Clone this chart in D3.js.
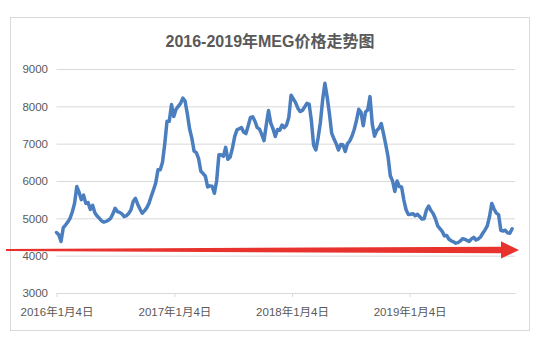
<!DOCTYPE html>
<html><head><meta charset="utf-8">
<script src="https://cdn.jsdelivr.net/npm/d3@7/dist/d3.min.js"></script>
<style>
html,body{margin:0;padding:0;background:#fff;}
svg{display:block;}
</style></head>
<body>
<svg id="chart" width="547" height="339"></svg>
<script>
const titleText = "2016-2019年MEG价格走势图";
const dates = [
"2016-01-04","2016-01-11","2016-01-18","2016-01-25","2016-02-01","2016-02-08","2016-02-15","2016-02-22","2016-02-29",
"2016-03-07","2016-03-14","2016-03-21","2016-03-28","2016-04-04","2016-04-11","2016-04-18","2016-04-25",
"2016-05-02","2016-05-09","2016-05-16","2016-05-23","2016-05-30","2016-06-06","2016-06-13","2016-06-20","2016-06-27",
"2016-07-04","2016-07-11","2016-07-18","2016-07-25","2016-08-01","2016-08-08","2016-08-15","2016-08-22","2016-08-29",
"2016-09-05","2016-09-12","2016-09-19","2016-09-26","2016-10-03","2016-10-10","2016-10-17","2016-10-24","2016-10-31",
"2016-11-07","2016-11-14","2016-11-21","2016-11-28","2016-12-05","2016-12-12","2016-12-19","2016-12-26",
"2017-01-02","2017-01-09","2017-01-16","2017-01-23","2017-01-30","2017-02-06","2017-02-13","2017-02-20","2017-02-27",
"2017-03-06","2017-03-13","2017-03-20","2017-03-27","2017-04-03","2017-04-10","2017-04-17","2017-04-24",
"2017-05-01","2017-05-08","2017-05-15","2017-05-22","2017-05-29","2017-06-05","2017-06-12","2017-06-19","2017-06-26",
"2017-07-03","2017-07-10","2017-07-17","2017-07-24","2017-07-31","2017-08-07","2017-08-14","2017-08-21","2017-08-28",
"2017-09-04","2017-09-11","2017-09-18","2017-09-25","2017-10-02","2017-10-09","2017-10-16","2017-10-23","2017-10-30",
"2017-11-06","2017-11-13","2017-11-20","2017-11-27","2017-12-04","2017-12-11","2017-12-18","2017-12-25",
"2018-01-01","2018-01-08","2018-01-15","2018-01-22","2018-01-29","2018-02-05","2018-02-12","2018-02-19","2018-02-26",
"2018-03-05","2018-03-12","2018-03-19","2018-03-26","2018-04-02","2018-04-09","2018-04-16","2018-04-23","2018-04-30",
"2018-05-07","2018-05-14","2018-05-21","2018-05-28","2018-06-04","2018-06-11","2018-06-18","2018-06-25",
"2018-07-02","2018-07-09","2018-07-16","2018-07-23","2018-07-30","2018-08-06","2018-08-13","2018-08-20","2018-08-27",
"2018-09-03","2018-09-10","2018-09-17","2018-09-24","2018-10-01","2018-10-08","2018-10-15","2018-10-22","2018-10-29",
"2018-11-05","2018-11-12","2018-11-19","2018-11-26","2018-12-03","2018-12-10","2018-12-17","2018-12-24","2018-12-31",
"2019-01-07","2019-01-14","2019-01-21","2019-01-28","2019-02-04","2019-02-11","2019-02-18","2019-02-25",
"2019-03-04","2019-03-11","2019-03-18","2019-03-25","2019-04-01","2019-04-08","2019-04-15","2019-04-22","2019-04-29",
"2019-05-06","2019-05-13","2019-05-20","2019-05-27","2019-06-03","2019-06-10","2019-06-17","2019-06-24",
"2019-07-01","2019-07-08","2019-07-15","2019-07-22","2019-07-29","2019-08-05","2019-08-12","2019-08-19","2019-08-26",
"2019-09-02","2019-09-09","2019-09-16","2019-09-23","2019-09-30","2019-10-07","2019-10-14","2019-10-21","2019-10-28",
"2019-11-04","2019-11-11","2019-11-18"
];
const prices = [
4620,4560,4380,4750,4820,4900,5000,5170,5400,
5850,5700,5500,5620,5400,5420,5240,5350,
5150,5060,5000,4930,4900,4920,4950,5000,5120,
5270,5180,5160,5120,5045,5070,5130,5225,5450,
5535,5380,5250,5135,5200,5280,5400,5590,5760,
5950,6300,6300,6500,7000,7600,7600,8050,
7725,7920,8000,8080,8220,8140,7800,7400,7150,
6800,6760,6600,6260,6200,6130,5840,5870,
5860,5670,6000,6700,6700,6660,6900,6580,6640,
6880,7190,7370,7400,7430,7310,7270,7480,7700,
7720,7600,7430,7390,7250,7080,7500,7890,7550,
7400,7190,7380,7360,7500,7430,7500,7700,
8300,8200,8100,7950,7860,7890,7980,8080,8060,
7620,6960,6830,7160,7570,8170,8620,8250,7810,
7280,7130,7000,6830,6980,6970,6790,7000,
7070,7200,7380,7620,7920,7840,7480,7850,7905,
8260,7530,7200,7350,7410,7540,7260,6970,6650,
6140,6000,5720,6000,5850,5840,5490,5230,5100,
5110,5125,5070,5110,5050,4980,4990,5220,
5330,5210,5130,4990,4800,4725,4650,4530,4540,
4440,4400,4370,4335,4350,4390,4455,4440,
4410,4380,4450,4490,4420,4450,4500,4600,4690,
4800,5050,5400,5250,5140,5100,4680,4660,4680,
4610,4600,4720
];
const yTicks = [3000,4000,5000,6000,7000,8000,9000];
const xTickDates = ["2016-01-04","2017-01-04","2018-01-04","2019-01-04"];
const xTickLabels = ["2016年1月4日","2017年1月4日","2018年1月4日","2019年1月4日"];
const axisStart = "2016-01-04", axisEnd = "2019-11-27";
const arrowLevel = 4150;

const parse = d3.timeParse("%Y-%m-%d");
const data = dates.map((d,i)=>({date:parse(d), value:prices[i]}));

const svg = d3.select("#chart");
const plot = {left:56.5, right:515, top:69, bottom:293};

// outer frame
svg.append("rect").attr("x",10.5).attr("y",17.5).attr("width",519).attr("height",313)
  .attr("fill","#fff").attr("stroke","#d9d9d9").attr("stroke-width",1);

const x = d3.scaleTime().domain([parse(axisStart), parse(axisEnd)]).range([plot.left, plot.right]);
const y = d3.scaleLinear().domain([3000,9000]).range([plot.bottom, plot.top]);

// title
svg.append("text").attr("x",270).attr("y",47).attr("text-anchor","middle")
  .attr("font-family","'Liberation Sans','Noto Sans CJK SC',sans-serif")
  .attr("font-size",16).attr("font-weight","bold").attr("fill","#595959")
  .text(titleText);

// gridlines + y labels
const yAxis = d3.axisLeft(y).tickValues(yTicks).tickSize(-(plot.right-plot.left)).tickSizeOuter(0)
  .tickPadding(8).tickFormat(d3.format("d"));
const gy = svg.append("g").attr("transform",`translate(${plot.left},0)`).call(yAxis);
gy.select(".domain").remove();
gy.selectAll(".tick line").attr("stroke","#d9d9d9").attr("stroke-width",1);
gy.selectAll(".tick text").attr("fill","#595959").attr("font-size",11.5)
  .attr("font-family","'Liberation Sans','Noto Sans CJK SC',sans-serif").attr("x",-8.5);

// x axis
const xAxis = d3.axisBottom(x).tickValues(xTickDates.map(parse)).tickSize(4).tickSizeOuter(0).tickPadding(11)
  .tickFormat((d,i)=>xTickLabels[i]);
const gx = svg.append("g").attr("transform",`translate(0,${plot.bottom})`).call(xAxis);
gx.select(".domain").attr("stroke","#d9d9d9");
gx.selectAll(".tick line").attr("stroke","#d9d9d9");
gx.selectAll(".tick text").attr("fill","#595959").attr("font-size",11.5)
  .attr("font-family","'Liberation Sans','Noto Sans CJK SC',sans-serif");

// price line
const line = d3.line().x(d=>x(d.date)).y(d=>y(d.value)).curve(d3.curveLinear);
svg.append("path").datum(data).attr("d",line).attr("fill","none")
  .attr("stroke","#4a7ebf").attr("stroke-width",3.5).attr("stroke-linejoin","round").attr("stroke-linecap","round");

// red arrow annotation
const ay = y(arrowLevel);
const ax0 = 6, axHeadBase = 501, axTip = 519;
const arrowPts = [
  [ax0, ay-1], [axHeadBase, ay-3.4], [axHeadBase, ay-8.8], [axTip, ay], [axHeadBase, ay+8.4],
  [axHeadBase, ay+3.2], [ax0, ay+1]
];
svg.append("path").attr("d", d3.line()(arrowPts)+"Z").attr("fill","#e8322e");
</script>
</body></html>
